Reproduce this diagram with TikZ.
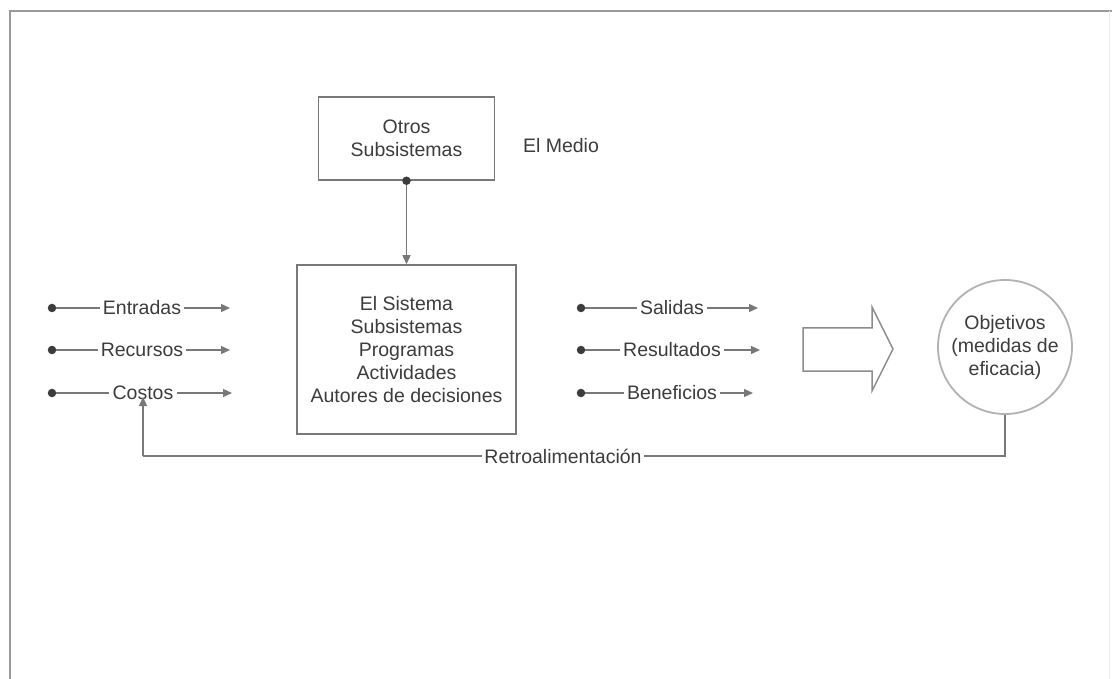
\documentclass[tikz,border=0pt]{standalone}
\usepackage{fontspec}
\setmainfont{Liberation Sans}
\usetikzlibrary{arrows.meta}
\definecolor{txt}{HTML}{3C3C3C}
\definecolor{ln}{HTML}{787878}
\definecolor{frm}{HTML}{9A9A9A}
\tikzset{
  lbl/.style={text=txt, inner sep=3pt, font=\fontsize{19.5}{23}\selectfont},
  boxtext/.style={text=txt, align=center, font=\fontsize{19.5}{23}\selectfont},
  bx/.style={draw=ln, line width=1.5pt},
  flow/.style={draw=ln, line width=1.4pt},
  tip/.style={-{Triangle[length=9pt,width=8pt]}},
  dotc/.style={circle, fill=txt, inner sep=0pt, minimum size=8.5pt},
}
\begin{document}
\begin{tikzpicture}[x=1pt,y=-1pt]
\useasboundingbox (0,0) rectangle (1112,679);
\fill[white] (0,0) rectangle (1112,679);
% frame
\draw[frm, line width=1.6pt] (10,679) -- (10,11) -- (1112,11);
\draw[black!6, line width=0.8pt] (1109,11) -- (1109,679);

% top box
\node[bx, boxtext, minimum width=176pt, minimum height=83pt] (otros) at (406.5,138.5) {Otros\\Subsistemas};
\node[boxtext] (medio) at (561,146) {El Medio};

% main box
\node[bx, boxtext, minimum width=219pt, minimum height=169pt] (sis) at (406.5,349.5)
  {El Sistema\\Subsistemas\\Programas\\Actividades\\Autores de decisiones};

\node[dotc] (d0) at (otros.south) {};
\draw[flow, tip] (d0) -- (sis.north);

% inputs
\node[dotc] (e0) at (52,308) {};
\node[lbl] (e1) at (142,308) {Entradas};
\coordinate (e2) at (230,308);
\node[dotc] (r0) at (52,350) {};
\node[lbl] (r1) at (142,350) {Recursos};
\coordinate (r2) at (230,350);
\node[dotc] (c0) at (52,393) {};
\node[lbl] (c1) at (143,393) {Costos};
\coordinate (c2) at (232,393);
\foreach \a in {e,r,c}{
  \draw[flow] (\a0) -- (\a1);
  \draw[flow, tip] (\a1) -- (\a2);
}

% outputs
\node[dotc] (s0) at (581,308) {};
\node[lbl] (s1) at (672,308) {Salidas};
\coordinate (s2) at (758,308);
\node[dotc] (t0) at (581,350) {};
\node[lbl] (t1) at (672,350) {Resultados};
\coordinate (t2) at (760,350);
\node[dotc] (b0) at (581,393) {};
\node[lbl] (b1) at (672,393) {Beneficios};
\coordinate (b2) at (753,393);
\foreach \a in {s,t,b}{
  \draw[flow] (\a0) -- (\a1);
  \draw[flow, tip] (\a1) -- (\a2);
}

% block arrow
\draw[ln!85, line width=1.5pt, line join=miter]
  (803,328) -- (872,328) -- (872,307) -- (893,349) -- (872,391) -- (872,371) -- (803,371) -- cycle;

% objectives
\node[circle, draw=black!30, line width=1.8pt, minimum size=134pt, boxtext, inner sep=0pt] (obj) at (1005,347)
  {Objetivos\\(medidas de\\eficacia)};

% feedback
\coordinate (f1) at (1005,456);
\coordinate (f2) at (143,456);
\coordinate (f3) at (143,397);
\draw[flow] (obj.south) -- (f1) -- (f2);
\draw[flow, tip] (f2) -- (f3);
\node[lbl, fill=white, inner sep=2pt] (retro) at (563,456) {Retroalimentación};
\end{tikzpicture}
\end{document}
